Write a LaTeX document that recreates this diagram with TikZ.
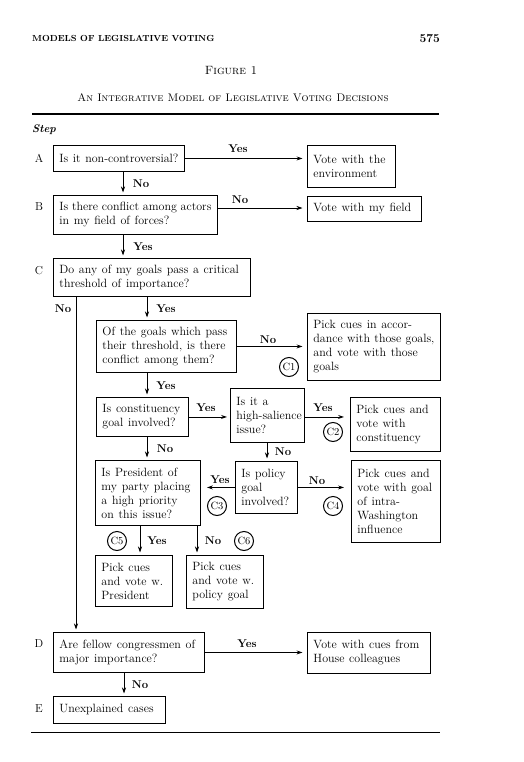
\documentclass[tikz,border=0pt]{standalone}
\usetikzlibrary{arrows.meta,calc}
\newcommand\myboxfont{\fontsize{12}{14}\selectfont}
\begin{document}
\begin{tikzpicture}[x=1pt,y=-1pt,
 box/.style={draw,line width=0.9pt,align=left,inner xsep=6pt,inner ysep=2pt,anchor=north west,font=\myboxfont,
   execute at begin node={\spaceskip=4.7pt plus 1pt minus 1pt\relax}},
 arr/.style={line width=0.8pt,-{Stealth[length=6pt,width=4pt]}},
 varr/.style={arr,shorten >=2.5pt},
 harr/.style={arr,shorten >=4.5pt},
 lbl/.style={font=\fontsize{11.3}{13}\selectfont\bfseries,inner sep=0pt},
 stepl/.style={font=\fontsize{11.5}{13}\selectfont,inner sep=0pt},
 circ/.style={circle,draw,line width=1pt,inner sep=0pt,minimum size=19pt,font=\fontsize{10.5}{10}\selectfont}]
\fill[white] (0,0) rectangle (523,762);
\useasboundingbox (0,0) rectangle (523,762);
% header
\node[anchor=base west,inner sep=0pt] (hdr) at (32,42) {\fontsize{8.8}{10}\selectfont\bfseries MODELS OF LEGISLATIVE VOTING};
\node[anchor=base east,inner sep=0pt] (pg) at (440,43) {\fontsize{12}{12}\selectfont\bfseries 575};
\node[anchor=base,inner sep=0pt] (fig) at (231,75) {\fontsize{12}{12}\selectfont\textsc{Figure 1}};
\node[anchor=base,inner sep=0pt] (ttl) at (233,102) {\fontsize{11}{12}\selectfont\textsc{An Integrative Model of Legislative Voting Decisions}};
\draw[line width=1.2pt] (32,114) -- (439,114);
\node[anchor=base west,inner sep=0pt] (step) at (32,133) {\fontsize{11}{13}\selectfont\bfseries\itshape Step};
\draw[line width=0.6pt] (31,732) -- (440,732);
% step letters
\node[stepl] (sA) at (39,158) {A};
\node[stepl] (sB) at (39,207) {B};
\node[stepl] (sC) at (39,271) {C};
\node[stepl] (sD) at (39,644) {D};
\node[stepl] (sE) at (39,709) {E};
% boxes
\node[box,text width=119pt,minimum height=26pt] (A) at (53,145) {Is it non-controversial?};
\node[box,text width=76pt,minimum height=42pt] (env) at (307,145) {Vote with the\\environment};
\node[box,text width=152pt,minimum height=39pt] (B) at (53,195) {Is there conflict among actors\\in my field of forces?};
\node[box,text width=102pt,minimum height=25pt] (field) at (307,196) {Vote with my field};
\node[box,text width=185pt,minimum height=38pt] (C) at (53,258) {Do any of my goals pass a critical\\threshold of importance?};
\node[box,text width=128pt,minimum height=52pt] (goals) at (96,320) {Of the goals which pass\\their threshold, is there\\conflict among them?};
\node[box,text width=121pt,minimum height=67pt] (P1) at (307,313) {Pick cues in accor-\\dance with those goals,\\and vote with those\\goals};
\node[box,text width=80pt,minimum height=39pt] (cons) at (96,397) {Is constituency\\goal involved?};
\node[box,text width=62pt,minimum height=54pt] (sal) at (230,388) {Is it a\\\mbox{high-salience}\\issue?};
\node[box,text width=78pt,minimum height=54pt] (P2) at (350,397) {Pick cues and\\vote with\\constituency};
\node[box,text width=93pt,minimum height=65pt] (pres) at (95,460) {Is President of\\my party placing\\a high priority\\on this issue?};
\node[box,text width=50pt,minimum height=52pt] (pol) at (235,461) {Is policy\\goal\\involved?};
\node[box,text width=77pt,minimum height=82pt] (P4) at (351,460) {Pick cues and\\vote with goal\\of intra-\\Washington\\influence};
\node[box,text width=65pt,minimum height=51pt] (P5) at (95,555) {Pick cues\\and vote w.\\President};
\node[box,text width=65pt,minimum height=53pt] (P6) at (186,555) {Pick cues\\and vote w.\\policy goal};
\node[box,text width=139pt,minimum height=40pt] (D) at (53,632) {Are fellow congressmen of\\major importance?};
\node[box,text width=111pt,minimum height=41pt] (house) at (307,632) {Vote with cues from\\House colleagues};
\node[box,text width=100pt,minimum height=27pt] (E) at (53,696) {Unexplained cases};
% circled labels
\node[circ] (c1) at (289,367) {C1};
\node[circ] (c2) at (333,432) {C2};
\node[circ] (c3) at (217,506) {C3};
\node[circ] (c4) at (333,506) {C4};
\node[circ] (c5) at (117,541) {C5};
\node[circ] (c6) at (244,541) {C6};
% connectors
\draw[harr] (A.east) -- (env.west |- A.east) node[lbl] at (238,149) {Yes};
\draw[varr] (A.south -| 123,0) -- (B.north -| 123,0) node[lbl] at (141,184) {No};
\draw[harr] (B.east |- 0,208) -- (field.west |- 0,208) node[lbl] at (240,200) {No};
\draw[varr] (B.south -| 123,0) -- (C.north -| 123,0) node[lbl] at (143,247) {Yes};
\draw[varr] (C.south -| 76,0) -- (D.north -| 76,0) node[lbl] at (63,309) {No};
\draw[varr] (C.south -| 147,0) -- (goals.north -| 147,0) node[lbl] at (166,309) {Yes};
\draw[harr] (goals.east) -- (P1.west |- goals.east) node[lbl] at (268,340) {No};
\draw[varr] (goals.south -| 147,0) -- (cons.north -| 147,0) node[lbl] at (166,386) {Yes};
\draw[arr,shorten >=3pt] (cons.east) -- (sal.west |- cons.east) node[lbl] at (206,408) {Yes};
\draw[arr,shorten >=6pt] (sal.east |- cons.east) -- (P2.west |- cons.east) node[lbl] at (323,408) {Yes};
\draw[varr] (cons.south -| 147,0) -- (pres.north -| 147,0) node[lbl] at (165,449) {No};
\draw[varr] (sal.south -| 267,0) -- (pol.north -| 267,0) node[lbl] at (283,452) {No};
\draw[arr,shorten >=6pt] (pol.west) -- (pres.east |- pol.west) node[lbl] at (220,480) {Yes};
\draw[arr,shorten >=7pt] (pol.east) -- (P4.west |- pol.east) node[lbl] at (317,481) {No};
\draw[varr] (pres.south -| 140,0) -- (P5.north -| 140,0) node[lbl] at (157,541) {Yes};
\draw[varr] (pres.south -| 197,0) -- (P6.north -| 197,0) node[lbl] at (213,541) {No};
\draw[harr] (D.east) -- (house.west |- D.east) node[lbl] at (247,644) {Yes};
\draw[varr] (D.south -| 124,0) -- (E.north -| 124,0) node[lbl] at (140,685) {No};
\end{tikzpicture}
\end{document}
